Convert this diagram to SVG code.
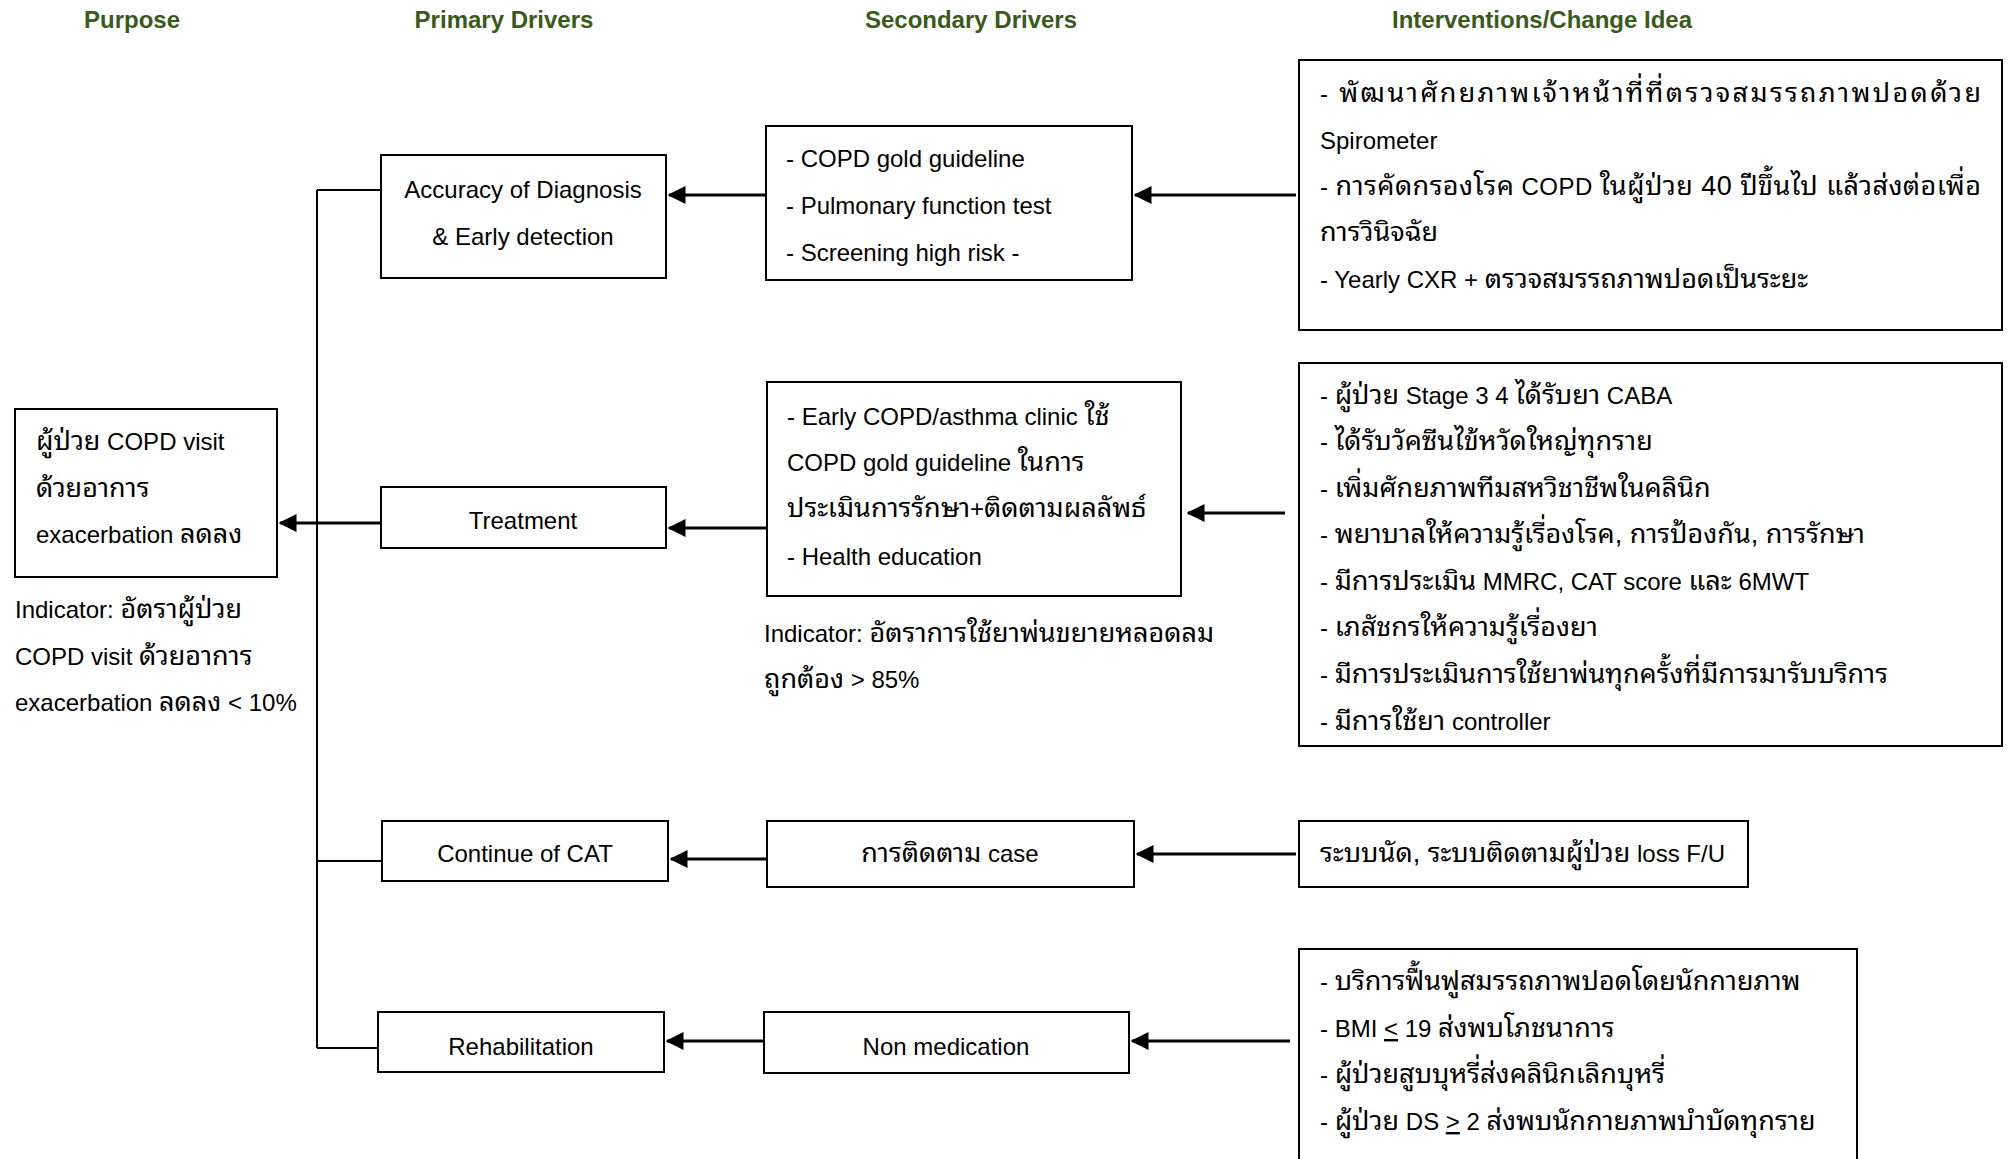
<svg xmlns="http://www.w3.org/2000/svg" width="2011" height="1159" viewBox="0 0 2011 1159">
<defs>
<style>
.hd{font-family:"Liberation Sans",Arial,sans-serif;font-weight:bold;font-size:24px;fill:#3a5a1c;text-anchor:middle}
.t{font-family:"Liberation Sans",Arial,"Noto Sans Thai Looped","Noto Sans Thai","Noto Sans",sans-serif;font-size:24px;fill:#000}
.th{font-size:27px}
.c{text-anchor:middle}
.box{fill:#fff;stroke:#000;stroke-width:2}
.ln{fill:none;stroke:#000;stroke-width:2}
.ar{fill:none;stroke:#000;stroke-width:3;marker-end:url(#ah)}
.u{text-decoration:underline}
</style>
<marker id="ah" markerWidth="6" markerHeight="6" refX="5.5" refY="3" orient="auto" markerUnits="strokeWidth" viewBox="0 0 6 6">
<path d="M0,0 L6,3 L0,6 z" fill="#000"/>
</marker>
</defs>
<rect width="2011" height="1159" fill="#fff"/>
<g id="headers">
<text class="hd" x="132" y="28">Purpose</text>
<text class="hd" x="504" y="28">Primary Drivers</text>
<text class="hd" x="971" y="28">Secondary Drivers</text>
<text class="hd" x="1542" y="28">Interventions/Change Idea</text>
</g>
<g id="connectors">
<path class="ln" d="M317,190 V1048"/>
<path class="ln" d="M317,190 H381"/>
<path class="ln" d="M317,861 H382"/>
<path class="ln" d="M317,1048 H378"/>
<path class="ar" d="M381,523 H280"/>
<path class="ar" d="M766,195 H669"/>
<path class="ar" d="M1296,195 H1135"/>
<path class="ar" d="M767,528 H669"/>
<path class="ar" d="M1285,513 H1188"/>
<path class="ar" d="M767,859 H671"/>
<path class="ar" d="M1296,854 H1137"/>
<path class="ar" d="M764,1041 H667"/>
<path class="ar" d="M1290,1041 H1132"/>
</g>
<g id="purpose">
<rect class="box" x="15" y="409" width="262" height="168"/>
<text class="t" x="36" y="450"><tspan class="th">ผู้ป่วย</tspan> COPD visit</text>
<text class="t" x="36" y="497"><tspan class="th">ด้วยอาการ</tspan></text>
<text class="t" x="36" y="543">exacerbation <tspan class="th">ลดลง</tspan></text>
</g>
<g id="indicator1">
<text class="t" x="15" y="618">Indicator: <tspan class="th">อัตราผู้ป่วย</tspan></text>
<text class="t" x="15" y="665">COPD visit <tspan class="th">ด้วยอาการ</tspan></text>
<text class="t" x="15" y="711">exacerbation <tspan class="th">ลดลง</tspan> &lt; 10%</text>
</g>
<g id="pd-accuracy">
<rect class="box" x="381" y="155" width="285" height="123"/>
<text class="t c" x="523" y="198">Accuracy of Diagnosis</text>
<text class="t c" x="523" y="245">&amp; Early detection</text>
</g>
<g id="pd-treatment">
<rect class="box" x="381" y="487" width="285" height="61"/>
<text class="t c" x="523" y="529">Treatment</text>
</g>
<g id="pd-continue">
<rect class="box" x="382" y="821" width="286" height="60"/>
<text class="t c" x="525" y="862">Continue of CAT</text>
</g>
<g id="pd-rehab">
<rect class="box" x="378" y="1012" width="286" height="60"/>
<text class="t c" x="521" y="1055">Rehabilitation</text>
</g>
<g id="sd-guideline">
<rect class="box" x="766" y="126" width="366" height="154"/>
<text class="t" x="786" y="167">- COPD gold guideline</text>
<text class="t" x="786" y="214">- Pulmonary function test</text>
<text class="t" x="786" y="261">- Screening high risk -</text>
</g>
<g id="sd-clinic">
<rect class="box" x="767" y="382" width="414" height="214"/>
<text class="t" x="787" y="425">- Early COPD/asthma clinic <tspan class="th">ใช้</tspan></text>
<text class="t" x="787" y="471">COPD gold guideline <tspan class="th">ในการ</tspan></text>
<text class="t" x="787" y="517"><tspan class="th">ประเมินการรักษา</tspan>+<tspan class="th">ติดตามผลลัพธ์</tspan></text>
<text class="t" x="787" y="565">- Health education</text>
</g>
<g id="indicator2">
<text class="t" x="764" y="642">Indicator: <tspan class="th">อัตราการใช้ยาพ่นขยายหลอดลม</tspan></text>
<text class="t" x="764" y="688"><tspan class="th">ถูกต้อง</tspan> &gt; 85%</text>
</g>
<g id="sd-followup">
<rect class="box" x="767" y="821" width="367" height="66"/>
<text class="t c" x="950" y="862"><tspan class="th">การติดตาม</tspan> case</text>
</g>
<g id="sd-nonmed">
<rect class="box" x="764" y="1012" width="365" height="61"/>
<text class="t c" x="946" y="1055">Non medication</text>
</g>
<g id="iv-diagnosis">
<rect class="box" x="1299" y="60" width="703" height="270"/>
<text class="t" x="1320" y="102" textLength="661" lengthAdjust="spacing">- <tspan class="th">พัฒนาศักยภาพเจ้าหน้าที่ที่ตรวจสมรรถภาพปอดด้วย</tspan></text>
<text class="t" x="1320" y="149">Spirometer</text>
<text class="t" x="1320" y="195" textLength="661" lengthAdjust="spacing">- <tspan class="th">การคัดกรองโรค</tspan> COPD <tspan class="th">ในผู้ป่วย 40 ปีขึ้นไป แล้วส่งต่อเพื่อ</tspan></text>
<text class="t" x="1320" y="241"><tspan class="th">การวินิจฉัย</tspan></text>
<text class="t" x="1320" y="288">- Yearly CXR + <tspan class="th">ตรวจสมรรถภาพปอดเป็นระยะ</tspan></text>
</g>
<g id="iv-treatment">
<rect class="box" x="1299" y="363" width="703" height="383"/>
<text class="t" x="1320" y="404">- <tspan class="th">ผู้ป่วย</tspan> Stage 3 4 <tspan class="th">ได้รับยา</tspan> CABA</text>
<text class="t" x="1320" y="450">- <tspan class="th">ได้รับวัคซีนไข้หวัดใหญ่ทุกราย</tspan></text>
<text class="t" x="1320" y="497">- <tspan class="th">เพิ่มศักยภาพทีมสหวิชาชีพในคลินิก</tspan></text>
<text class="t" x="1320" y="543">- <tspan class="th">พยาบาลให้ความรู้เรื่องโรค, การป้องกัน, การรักษา</tspan></text>
<text class="t" x="1320" y="590">- <tspan class="th">มีการประเมิน</tspan> MMRC, CAT score <tspan class="th">และ</tspan> 6MWT</text>
<text class="t" x="1320" y="636">- <tspan class="th">เภสัชกรให้ความรู้เรื่องยา</tspan></text>
<text class="t" x="1320" y="683">- <tspan class="th">มีการประเมินการใช้ยาพ่นทุกครั้งที่มีการมารับบริการ</tspan></text>
<text class="t" x="1320" y="730">- <tspan class="th">มีการใช้ยา</tspan> controller</text>
</g>
<g id="iv-appointment">
<rect class="box" x="1299" y="821" width="449" height="66"/>
<text class="t" x="1320" y="862"><tspan class="th">ระบบนัด, ระบบติดตามผู้ป่วย</tspan> loss F/U</text>
</g>
<g id="iv-rehab">
<rect class="box" x="1299" y="949" width="558" height="230"/>
<text class="t" x="1320" y="990">- <tspan class="th">บริการฟื้นฟูสมรรถภาพปอดโดยนักกายภาพ</tspan></text>
<text class="t" x="1320" y="1037">- BMI <tspan class="u">&lt;</tspan> 19 <tspan class="th">ส่งพบโภชนาการ</tspan></text>
<text class="t" x="1320" y="1083">- <tspan class="th">ผู้ป่วยสูบบุหรี่ส่งคลินิกเลิกบุหรี่</tspan></text>
<text class="t" x="1320" y="1130">- <tspan class="th">ผู้ป่วย</tspan> DS <tspan class="u">&gt;</tspan> 2 <tspan class="th">ส่งพบนักกายภาพบำบัดทุกราย</tspan></text>
</g>
</svg>
